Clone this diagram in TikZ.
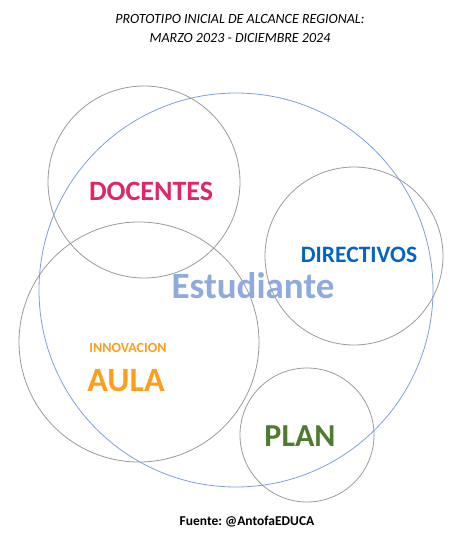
\documentclass[tikz,border=0pt]{standalone}
\usepackage{fontspec}
\setmainfont{Carlito}
\usepackage{xcolor}
\usetikzlibrary{positioning}
\frenchspacing

\definecolor{ringblue}{HTML}{7F9FDB}
\definecolor{ringgray}{HTML}{9A9A9A}
\definecolor{docpink}{HTML}{E0256B}
\definecolor{dirblue}{HTML}{0563C1}
\definecolor{estblue}{HTML}{8FAADC}
\definecolor{aulaorange}{HTML}{FF9E1B}
\definecolor{plangreen}{HTML}{4E7B2F}

\begin{document}
\begin{tikzpicture}[x=1pt,y=-1pt,
    ring/.style={draw=ringgray, line width=0.8pt},
    label/.style={font=\bfseries, inner sep=0pt}]
    \useasboundingbox (0,0) rectangle (463,536);
    
    % Title
    \node[font=\itshape\fontsize{14}{19}\selectfont, align=center] (title) at (240,28.5)
        {PROTOTIPO INICIAL DE ALCANCE REGIONAL:\\MARZO 2023 - DICIEMBRE 2024};
    
    % Outer ring (student)
    \draw[ringblue, line width=0.8pt] (236,290) circle (197);
    
    % Inner rings
    \draw[ring] (144,182) circle (96);
    \draw[ring] (354,256) circle (89);
    \draw[ring] (139,342) circle (120);
    \draw[ring] (307,435) circle (67);
    
    % Labels
    \node[label, docpink, font=\bfseries\fontsize{28}{28}\selectfont] (docentes) at (151,191) {DOCENTES};
    \node[label, dirblue, font=\bfseries\fontsize{23.5}{24}\selectfont] (directivos) at (359,255) {DIRECTIVOS};
    \node[label, estblue, font=\bfseries\fontsize{37}{37}\selectfont, anchor=base] (estudiante) at (253,298) {Estudiante};
    \node[label, aulaorange, font=\bfseries\fontsize{14}{14}\selectfont] (innovacion) at (128,348) {INNOVACION};
    \node[label, aulaorange, font=\bfseries\fontsize{34}{34}\selectfont] (aula) at (126,381) {AULA};
    \node[label, plangreen, font=\bfseries\fontsize{32}{32}\selectfont] (plan) at (300,436) {PLAN};
    
    % Source
    \node[font=\bfseries\fontsize{13.5}{14}\selectfont] (fuente) at (247,522) {Fuente: @AntofaEDUCA};
\end{tikzpicture}
\end{document}
